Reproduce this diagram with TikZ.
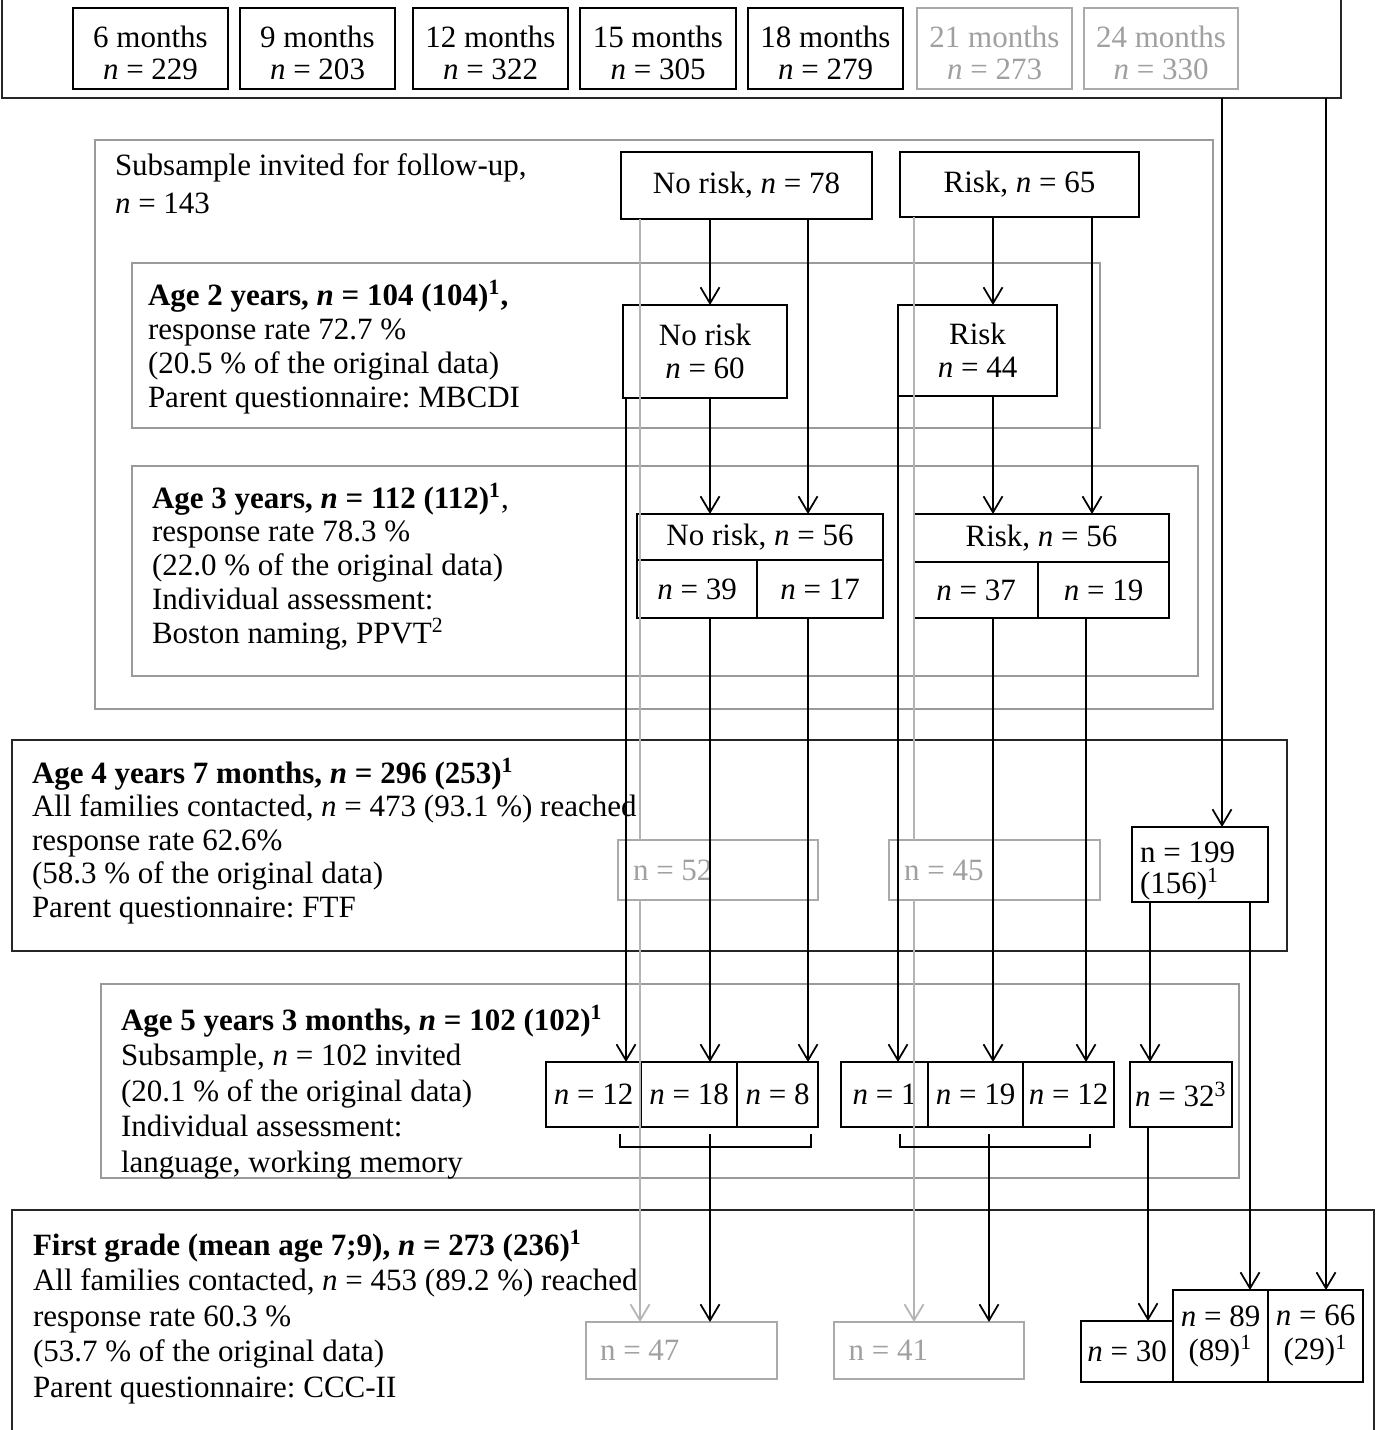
\documentclass[tikz,border=0pt]{standalone}
\usepackage{fontspec}
\setmainfont{Liberation Serif}
\frenchspacing
\usetikzlibrary{arrows.meta}
\definecolor{frgray}{HTML}{9A9A9A}
\definecolor{bxgray}{HTML}{AAAAAA}
\definecolor{txgray}{HTML}{A0A0A0}
\definecolor{lngray}{HTML}{B4B4B4}
\newcommand\BX[7]{\node[#1, minimum width={(#5-#3)*0.4pt}, minimum height={(#6-#4)*0.4pt}] (#2) at ({(#3+#5)/2},{(#4+#6)/2}) {#7};}
\newcommand\TS{\rule{0pt}{11.8pt}}
\tikzset{
  every node/.style={font=\fontsize{12.4}{14.2}\selectfont, inner sep=0pt, outer sep=0pt},
  bbox/.style={draw=black, line width=0.7pt, align=center},
  topbox/.style={bbox, font=\fontsize{12.4}{12.8}\selectfont},
  gtopbox/.style={topbox, draw=bxgray, text=txgray},
  gbox/.style={draw=bxgray, text=txgray, line width=0.7pt, align=flush left},
  gframe/.style={draw=frgray, line width=0.9pt},
  kframe/.style={draw=black!85, line width=0.9pt},
  conn/.style={draw=black, line width=0.7pt},
  arr/.style={conn, -{Straight Barb[length=6.4pt,width=7.6pt]}},
  gline/.style={draw=lngray, line width=0.7pt},
  garr/.style={gline, -{Straight Barb[length=6.4pt,width=7.6pt]}},
  lbl/.style={anchor=north west, align=flush left},
}
\begin{document}
\begin{tikzpicture}[x=0.4pt, y=-0.4pt]
\useasboundingbox[fill=white] (0,0) rectangle (1381,1430);
% lanes
\coordinate (xA) at (626,0);
\coordinate (xgA) at (640,0);
\coordinate (xN1) at (710,0);
\coordinate (xN2) at (808,0);
\coordinate (xB) at (898,0);
\coordinate (xgB) at (914,0);
\coordinate (xR1) at (993,0);
\coordinate (xR2) at (1092,0);
\coordinate (xR3) at (1086,0);
\coordinate (xT1) at (1222,0);
\coordinate (xT2) at (1326,0);
\coordinate (xS1) at (1150,0);
\coordinate (xS2) at (1250,0);
\coordinate (xS3) at (1148,0);

% cohort frame and boxes
\BX{kframe}{cohort}{2}{-3}{1341}{98}{}
\BX{topbox}{m6}{73}{8}{228}{89}{\TS 6 months\\\textit{n} = 229}
\BX{topbox}{m9}{240}{8}{395}{89}{\TS 9 months\\\textit{n} = 203}
\BX{topbox}{m12}{413}{8}{568}{89}{\TS 12 months\\\textit{n} = 322}
\BX{topbox}{m15}{580}{8}{736}{89}{\TS 15 months\\\textit{n} = 305}
\BX{topbox}{m18}{748}{8}{903}{89}{\TS 18 months\\\textit{n} = 279}
\BX{gtopbox}{m21}{917}{8}{1072}{89}{\TS 21 months\\\textit{n} = 273}
\BX{gtopbox}{m24}{1084}{8}{1238}{89}{\TS 24 months\\\textit{n} = 330}

% subsample frame
\BX{gframe}{sub}{95}{140}{1213}{709}{}
\node[lbl, font=\fontsize{12.4}{15.2}\selectfont] (subt) at (115,154) {Subsample invited for follow-up,\\\textit{n} = 143};
\BX{bbox}{nr78}{621}{152}{872}{219}{No risk, \textit{n} = 78}
\BX{bbox}{r65}{900}{152}{1139}{217}{Risk, \textit{n} = 65}

% age 2
\BX{gframe}{age2}{132}{263}{1100}{428}{}
\node[lbl, font=\fontsize{12.4}{13.6}\selectfont] (age2t) at (148,280) {\textbf{Age 2 years, \textit{n} = 104 (104)\textsuperscript{1},}\\response rate 72.7 \%\\(20.5 \% of the original data)\\Parent questionnaire: MBCDI};
\BX{bbox, font=\fontsize{12.4}{13.2}\selectfont}{nr60}{623}{305}{787}{398}{No risk\\\textit{n} = 60}
\BX{bbox, font=\fontsize{12.4}{13.2}\selectfont}{r44}{898}{305}{1057}{396}{Risk\\\textit{n} = 44}

% age 3
\BX{gframe}{age3}{132}{466}{1198}{676}{}
\node[lbl, font=\fontsize{12.4}{13.5}\selectfont] (age3t) at (152,483) {\textbf{Age 3 years, \textit{n} = 112 (112)\textsuperscript{1}},\\response rate 78.3 \%\\(22.0 \% of the original data)\\Individual assessment:\\Boston naming, PPVT\textsuperscript{2}};
\BX{bbox}{nr56}{637}{514}{883}{560}{No risk, \textit{n} = 56}
\BX{bbox}{c39}{637}{560}{757}{618}{\textit{n} = 39}
\BX{bbox}{c17}{757}{560}{883}{618}{\textit{n} = 17}
\BX{bbox}{r56}{914}{514}{1169}{562}{Risk, \textit{n} = 56}
\BX{bbox}{c37}{914}{562}{1038}{618}{\textit{n} = 37}
\BX{bbox}{c19}{1038}{562}{1169}{618}{\textit{n} = 19}

% age 4
\BX{kframe}{age4}{12}{740}{1287}{951}{}
\node[lbl, font=\fontsize{12.4}{13.4}\selectfont] (age4t) at (32,758) {\textbf{Age 4 years 7 months, \textit{n} = 296 (253)\textsuperscript{1}}\\All families contacted, \textit{n} = 473 (93.1 \%) reached\\response rate 62.6\%\\(58.3 \% of the original data)\\Parent questionnaire: FTF};
\BX{gbox, text width=68pt}{n52}{618}{840}{818}{900}{n = 52}
\BX{gbox, text width=72.4pt}{n45}{889}{840}{1100}{900}{n = 45}
\BX{bbox, align=flush left, text width=48pt, font=\fontsize{12.4}{12.4}\selectfont}{n199}{1132}{827}{1268}{902}{\rule{0pt}{13.4pt}n = 199\\(156)\textsuperscript{1}}

% age 5
\BX{gframe}{age5}{101}{984}{1239}{1178}{}
\node[lbl] (age5t) at (121,1005) {\textbf{Age 5 years 3 months, \textit{n} = 102 (102)\textsuperscript{1}}\\Subsample, \textit{n} = 102 invited\\(20.1 \% of the original data)\\Individual assessment:\\language, working memory};
\BX{bbox}{c12}{546}{1062}{641}{1127}{\textit{n} = 12}
\BX{bbox}{c18}{641}{1062}{737}{1127}{\textit{n} = 18}
\BX{bbox}{c8}{737}{1062}{818}{1127}{\textit{n} = 8}
\BX{bbox}{c1}{841}{1062}{928}{1127}{\textit{n} = 1}
\BX{bbox}{c19b}{928}{1062}{1023}{1127}{\textit{n} = 19}
\BX{bbox}{c12b}{1023}{1062}{1114}{1127}{\textit{n} = 12}
\BX{bbox}{c32}{1130}{1062}{1232}{1127}{\textit{n} = 32\textsuperscript{3}}

% first grade
\BX{kframe}{first}{12}{1210}{1374}{1436}{}
\node[lbl] (firstt) at (33,1230) {\textbf{First grade (mean age 7;9), \textit{n} = 273 (236)\textsuperscript{1}}\\All families contacted, \textit{n} = 453 (89.2 \%) reached\\response rate 60.3 \%\\(53.7 \% of the original data)\\Parent questionnaire: CCC-II};
\BX{gbox, text width=65.2pt}{n47}{586}{1322}{777}{1379}{n = 47}
\BX{gbox, text width=64.4pt}{n41}{834}{1322}{1024}{1379}{n = 41}
\BX{bbox}{n30}{1081}{1321}{1173}{1382}{\textit{n} = 30}
\BX{bbox, font=\fontsize{12.4}{13.6}\selectfont}{n89}{1173}{1290}{1268}{1382}{\textit{n} = 89\\(89)\textsuperscript{1}}
\BX{bbox, font=\fontsize{12.4}{13.6}\selectfont}{n66}{1268}{1290}{1363}{1382}{\textit{n} = 66\\(29)\textsuperscript{1}}

% bracket coordinates
\coordinate (k1a) at (620,1134);
\coordinate (k1b) at (811,1134);
\coordinate (k1s) at (710,1134);
\coordinate (k2a) at (900,1134);
\coordinate (k2b) at (1090,1134);
\coordinate (k2s) at (989,1134);

% connectors
\draw[arr] (nr78.south -| xN1) -- (nr60.north -| xN1);
\draw[arr] (nr78.south -| xN2) -- (nr56.north -| xN2);
\draw[arr] (nr60.south -| xN1) -- (nr56.north -| xN1);
\draw[arr] (r65.south -| xR1) -- (r44.north -| xR1);
\draw[arr] (r65.south -| xR2) -- (r56.north -| xR2);
\draw[arr] (r44.south -| xR1) -- (r56.north -| xR1);
\draw[arr] (nr60.south -| xA) -- (c12.north -| xA);
\draw[gline] (nr78.south -| xgA) -- (n52.north -| xgA);
\draw[garr] (n52.south -| xgA) -- (n47.north -| xgA);
\draw[arr] (c39.south -| xN1) -- (c18.north -| xN1);
\draw[arr] (c17.south -| xN2) -- (c8.north -| xN2);
\draw[arr] (r44.south -| xB) -- (c1.north -| xB);
\draw[gline] (r65.south -| xgB) -- (n45.north -| xgB);
\draw[garr] (n45.south -| xgB) -- (n41.north -| xgB);
\draw[arr] (c37.south -| xR1) -- (c19b.north -| xR1);
\draw[arr] (c19.south -| xR3) -- (c12b.north -| xR3);
\draw[arr] (cohort.south -| xT1) -- (n199.north -| xT1);
\draw[arr] (cohort.south -| xT2) -- (n66.north -| xT2);
\draw[arr] (n199.south -| xS1) -- (c32.north -| xS1);
\draw[arr] (n199.south -| xS2) -- (n89.north -| xS2);
\draw[arr] (c32.south -| xS3) -- (n30.north -| xS3);
\draw[conn] (k1a) -- ++(0,13) -| (k1b);
\draw[conn] (k2a) -- ++(0,13) -| (k2b);
\draw[arr] (k1s) -- (n47.north -| k1s);
\draw[arr] (k2s) -- (n41.north -| k2s);
\end{tikzpicture}
\end{document}
